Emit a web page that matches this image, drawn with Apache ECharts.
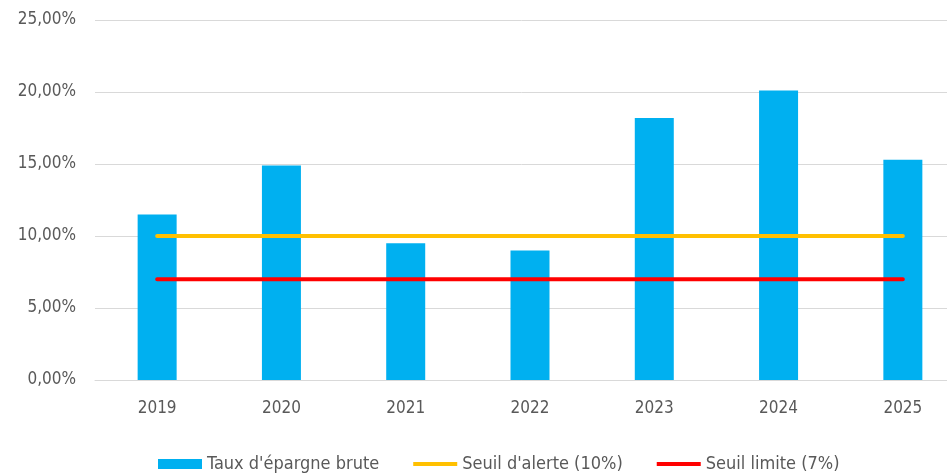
<!DOCTYPE html>
<html>
<head>
<meta charset="utf-8">
<script src="https://cdn.jsdelivr.net/npm/echarts@6/dist/echarts.min.js"></script>
<style>
  html, body { margin: 0; padding: 0; background: #fff; }
  #chart { width: 947px; height: 476px; }
</style>
</head>
<body>
<div id="chart"></div>
<script>
    // donnees du graphique
    var annees = ["2019", "2020", "2021", "2022", "2023", "2024", "2025"];
    var tauxEpargne = [11.5, 14.9, 9.5, 9.0, 18.2, 20.1, 15.3];
    var seuilAlerte = [10, 10, 10, 10, 10, 10, 10];
    var seuilLimite = [7, 7, 7, 7, 7, 7, 7];

    var police = '"Liberation Sans Narrow", "DejaVu Sans Condensed", sans-serif';

    /**
     * format "10,00%"
     */
    var formatPct = function(v){
        return v.toFixed(2).replace('.', ',') + '%';
    };

    // icone de legende : trait fin
    var iconeTrait = 'path://M0,0 L46,0 L46,4 L0,4 Z';

    var chart = echarts.init(document.getElementById('chart'));
    chart.setOption({
        animation: false,
        backgroundColor: '#fff',
        textStyle: { fontFamily: police },
        // le graphique d'origine est coupe a droite
        grid: { left: 95, width: 870, top: 20, bottom: 96, containLabel: false, outerBoundsMode: 'none' },
        legend: {
            top: 450,
            left: 153,
            itemWidth: 44,
            itemHeight: 10,
            itemGap: 34,
            textStyle: { fontSize: 18, color: '#595959', fontFamily: police },
            data: [
                { name: "Taux d'épargne brute", icon: 'rect' },
                { name: "Seuil d'alerte (10%)", icon: iconeTrait },
                { name: "Seuil limite (7%)", icon: iconeTrait }
            ]
        },
        xAxis: {
            type: 'category',
            data: annees,
            axisLine: { show: true, lineStyle: { color: '#D9D9D9', width: 1 } },
            axisTick: { show: false },
            axisLabel: { color: '#595959', fontSize: 17, margin: 20, fontFamily: police }
        },
        yAxis: {
            type: 'value',
            min: 0,
            max: 25,
            interval: 5,
            axisLine: { show: false },
            axisTick: { show: false },
            splitLine: { lineStyle: { color: '#D9D9D9', width: 1 } },
            axisLabel: { color: '#595959', fontSize: 17, margin: 19, fontFamily: police, formatter: formatPct }
        },
        series: [
            {
                name: "Taux d'épargne brute",
                type: 'bar',
                data: tauxEpargne,
                barWidth: 39,
                itemStyle: { color: '#00B0F0' }
            },
            {
                name: "Seuil d'alerte (10%)",
                type: 'line',
                data: seuilAlerte,
                symbol: 'none',
                lineStyle: { color: '#FFC000', width: 4, cap: 'round' },
                itemStyle: { color: '#FFC000' }
            },
            {
                name: "Seuil limite (7%)",
                type: 'line',
                data: seuilLimite,
                symbol: 'none',
                lineStyle: { color: '#FF0000', width: 4, cap: 'round' },
                itemStyle: { color: '#FF0000' }
            }
        ]
    });
</script>
</body>
</html>
